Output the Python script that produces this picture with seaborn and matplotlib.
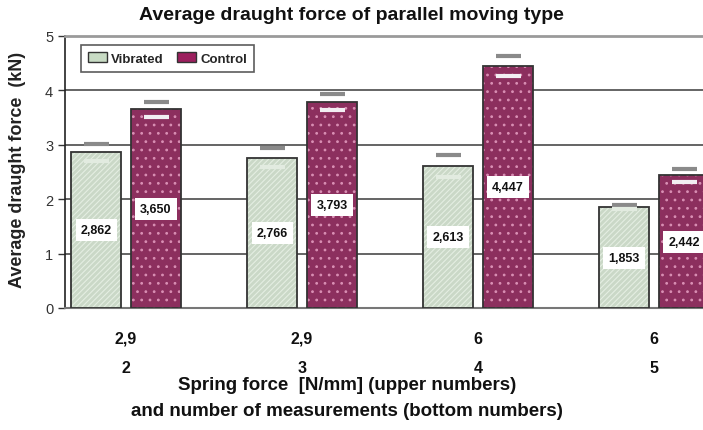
import seaborn as sns
import matplotlib.pyplot as plt
import pandas as pd
from matplotlib.patches import Patch, Rectangle

# data
groups = ['2,9\n2', '2,9\n3', '6\n4', '6\n5']
vibrated = [2.862, 2.766, 2.613, 1.853]
control = [3.650, 3.793, 4.447, 2.442]
vibrated_err = [0.16, 0.18, 0.20, 0.04]
control_err = [0.14, 0.15, 0.19, 0.12]
series = ['Vibrated', 'Control']

fill_colors = {'Vibrated': '#c8dbc4', 'Control': '#9c1f5e'}
hatch_colors = {'Vibrated': '#e4eee2', 'Control': '#d98fb4'}
hatches = {'Vibrated': '//////', 'Control': '..'}
edge = '#333333'

df = pd.DataFrame({
	'group': groups * 2,
	'series': ['Vibrated'] * 4 + ['Control'] * 4,
	'value': vibrated + control,
	'err': vibrated_err + control_err,
})

sns.set_style('white')
plt.rcParams['font.family'] = ['Liberation Sans', 'DejaVu Sans']
plt.rcParams['hatch.linewidth'] = 0.8

fig = plt.figure(figsize=(7.03, 4.31), dpi=100)
ax = fig.add_axes([65 / 703, (431 - 309) / 431, (703 - 65) / 703, (309 - 37) / 431])

sns.barplot(data=df, x='group', y='value', hue='series', hue_order=series,
	palette=fill_colors, width=0.68, gap=0.165, linewidth=0,
	legend=False, ax=ax, zorder=3)

# light hatching, outline, markers and labels on each bar
for i, p in enumerate(list(ax.patches)[:8]):
	s = df['series'].iloc[i]
	x0, w, h = p.get_x(), p.get_width(), p.get_height()
	ax.add_patch(Rectangle((x0, 0), w, h, facecolor='none', edgecolor=hatch_colors[s],
		hatch=hatches[s], linewidth=0, zorder=3.4))
	ax.add_patch(Rectangle((x0, 0), w, h, facecolor='none', edgecolor=edge,
		linewidth=1.3, zorder=3.6))
	cx = x0 + w / 2
	e = df['err'].iloc[i]
	ax.plot([cx], [h + e], marker='_', markersize=18, markeredgewidth=3,
		color='#8a8a8a', zorder=4)
	ax.plot([cx], [h - e], marker='_', markersize=18, markeredgewidth=3,
		color='#f2eef2' if s == 'Control' else '#e2ebe0', zorder=4)
	ax.text(cx, h / 2, f'{h:.3f}'.replace('.', ','), ha='center', va='center',
		fontsize=9, fontweight='bold', zorder=5, color='#111111',
		bbox=dict(boxstyle='square,pad=0.4', facecolor='white', edgecolor='none'))

ax.set_ylim(0, 5)
ax.set_xlim(-0.347, 3.278)
ax.set_yticks([0, 1, 2, 3, 4, 5])
ax.yaxis.grid(True, color='#4a4a4a', linewidth=1.2, zorder=0)
ax.set_axisbelow(True)
ax.tick_params(axis='y', left=True, length=5, width=1, color='#333333',
	labelsize=10.5, labelcolor='#333333')
ax.tick_params(axis='x', bottom=False, pad=13)
ax.set_xticks(range(4))
ax.set_xticklabels(groups, fontsize=11.5, fontweight='bold', linespacing=2.2,
	color='#111111')

ax.spines['right'].set_visible(False)
ax.spines['top'].set_color('#9a9a9a')
ax.spines['top'].set_linewidth(2)
ax.spines['left'].set_color('#222222')
ax.spines['left'].set_linewidth(1.2)
ax.spines['bottom'].set_color('#777777')
ax.spines['bottom'].set_linewidth(1.5)

ax.set_ylabel('Average draught force  (kN)', fontsize=13, fontweight='bold',
	color='#222222')
ax.yaxis.set_label_coords(-0.061, 0.51)
ax.set_xlabel('Spring force  [N/mm] (upper numbers)\nand number of measurements (bottom numbers)',
	fontsize=13.5, fontweight='bold', linespacing=1.7, color='#111111')
ax.xaxis.set_label_coords(0.442, -0.33)
ax.xaxis.label.set_verticalalignment('center')

fig.suptitle('Average draught force of parallel moving type', x=0.5, y=1 - 15 / 431,
	va='center', fontsize=14, fontweight='bold', color='#111111')

handles = [Patch(facecolor=fill_colors[s], edgecolor=edge, linewidth=1,
	label=s) for s in series]
leg = ax.legend(handles=handles, loc='upper left', bbox_to_anchor=(16 / 638, 1 - 9 / 272),
	borderaxespad=0, ncol=2, frameon=True, fancybox=False, edgecolor='#333333',
	prop={'weight': 'bold', 'size': 9.5}, handlelength=1.4, handleheight=0.8,
	columnspacing=1.0, borderpad=0.55, handletextpad=0.35)
leg.get_frame().set_linewidth(1.2)

fig.savefig('out.png', dpi=100)
